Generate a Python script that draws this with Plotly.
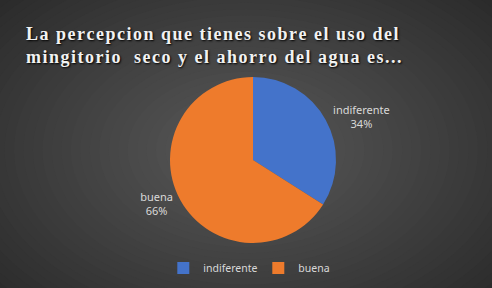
import plotly.graph_objects as go

labels = ["indiferente", "buena"]
values = [34, 66]
colors = ["#4473ca", "#ee7b2c"]
title_lines = ["La percepcion que tienes sobre el uso del",
               "mingitorio  seco y el ahorro del agua es..."]

W, H = 492, 288


def spaced(s):
    return "\u200a".join(s)


title_text = "<br>".join(spaced(l) for l in title_lines)

fig = go.Figure()
fig.add_trace(go.Pie(
    labels=labels, values=values, sort=False, direction="clockwise", rotation=0,
    marker=dict(colors=colors, line=dict(width=0)),
    textposition="outside", texttemplate="%{label}<br>%{percent:.0%}",
    textfont=dict(family="Noto Sans", size=11, color="#d9d9d9"),
    domain=dict(x=[(253 - 83) / W, (253 + 83) / W], y=[(128 - 83) / H, (128 + 83) / H]),
    hoverinfo="skip",
))

# radial gradient background
shapes = []
N = 40
cx, cy = 246 / W, 1 - 150 / H
outer = (38, 38, 38)
inner = (90, 90, 90)
for i in range(N):
    t = i / (N - 1)
    rx = 0.75 * (1 - t) + 0.01
    ry = 0.85 * (1 - t) + 0.01
    c = tuple(int(outer[k] + (inner[k] - outer[k]) * t) for k in range(3))
    shapes.append(dict(type="circle", xref="paper", yref="paper",
                       x0=cx - rx, x1=cx + rx, y0=cy - ry, y1=cy + ry,
                       fillcolor="rgb(%d,%d,%d)" % c, line=dict(width=0), layer="below"))

fig.update_layout(
    width=W, height=H,
    margin=dict(l=0, r=0, t=0, b=0),
    paper_bgcolor="#262626",
    plot_bgcolor="rgba(0,0,0,0)",
    shapes=shapes,
    title=dict(text=title_text, x=26 / W, xanchor="left", y=1 - 40 / H, yanchor="top",
               xref="container", yref="container",
               font=dict(family="Liberation Serif", size=18, color="#f2f2f2", weight="bold",
                         shadow="1px 1px 2px #000000")),
    showlegend=True,
    legend=dict(orientation="h", x=0.525, xanchor="center", y=20 / H, yanchor="middle",
                font=dict(family="Noto Sans", size=10.5, color="#d9d9d9"),
                bgcolor="rgba(0,0,0,0)", itemwidth=30, entrywidth=50),
)

fig.write_html("out.html")
